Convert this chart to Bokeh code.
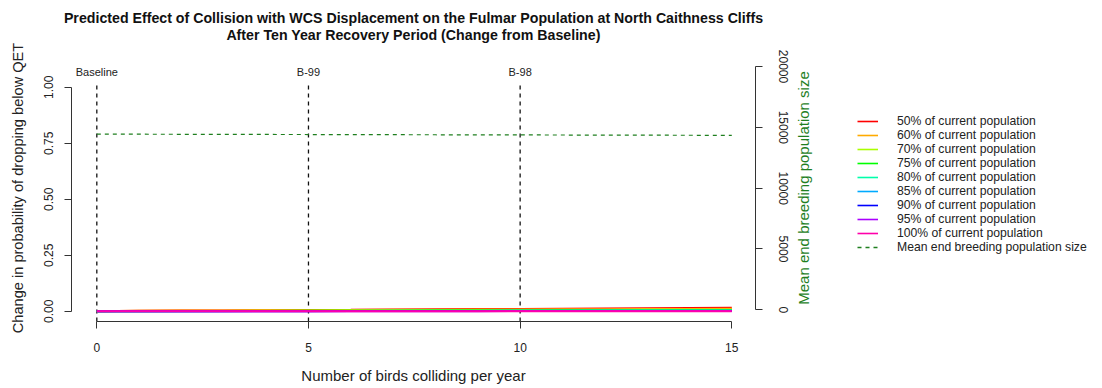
from bokeh.plotting import figure
from bokeh.models import Range1d, LinearAxis, FixedTicker, Legend, LegendItem, Label
from bokeh.layouts import row, column
from bokeh.embed import file_html
from bokeh.resources import INLINE
from bokeh.core.properties import value
import math

# ---------------- data ----------------
collisions = [0, 1, 2, 3, 4, 5, 6, 7, 8, 9, 10, 11, 12, 13, 14, 15]

pct50 = [0, 0.002, 0.003, 0.003, 0.004, 0.005, 0.006, 0.008, 0.009, 0.010, 0.010, 0.011, 0.012, 0.013, 0.014, 0.015]
pct60 = [0, 0.002, 0.003, 0.003, 0.004, 0.004, 0.005, 0.006, 0.007, 0.008, 0.008, 0.009, 0.009, 0.010, 0.010, 0.011]
pct70 = [0, 0.001, 0.001, 0.001, 0.002, 0.002, 0.003, 0.003, 0.004, 0.004, 0.005, 0.005, 0.005, 0.006, 0.006, 0.007]
pct75 = [0, 0, 0.001, 0.001, 0.001, 0.002, 0.002, 0.002, 0.003, 0.003, 0.003, 0.004, 0.004, 0.004, 0.005, 0.005]
pct80 = [0, 0, 0, 0.001, 0.001, 0.001, 0.001, 0.002, 0.002, 0.002, 0.002, 0.002, 0.003, 0.003, 0.003, 0.003]
pct85 = [0, 0, 0, 0, 0.001, 0.001, 0.001, 0.001, 0.001, 0.001, 0.002, 0.002, 0.002, 0.002, 0.002, 0.002]
pct90 = [0, 0, 0, 0, 0, 0, 0.001, 0.001, 0.001, 0.001, 0.001, 0.001, 0.001, 0.001, 0.001, 0.001]
pct95 = [0, 0, 0, 0, 0, 0, 0, 0, 0, 0, 0.0005, 0.0005, 0.0005, 0.0005, 0.0005, 0.0005]
pct100 = [0, 0, 0, 0, 0, 0, 0, 0, 0, 0, 0, 0, 0, 0, 0, 0]

pop_mean = [14440, 14434, 14428, 14421, 14414, 14408, 14401, 14394, 14388, 14382, 14375, 14368, 14362, 14355, 14348, 14340]

series_values = [pct50, pct60, pct70, pct75, pct80, pct85, pct90, pct95, pct100]
series_labels = ["50% of current population", "60% of current population",
                 "70% of current population", "75% of current population",
                 "80% of current population", "85% of current population",
                 "90% of current population", "95% of current population",
                 "100% of current population"]
series_colors = ["#FF0000", "#FFAA00", "#AAFF00", "#00FF00", "#00FFAA",
                 "#00AAFF", "#0000FF", "#AA00FF", "#FF00AA"]
pop_label = "Mean end breeding population size"

scenario_x = [0, 5, 10]
scenario_names = ["Baseline", "B-99", "B-98"]

left_ticks = [0, 0.25, 0.5, 0.75, 1.0]
left_tick_labels = ["0.00", "0.25", "0.50", "0.75", "1.00"]
bottom_ticks = [0, 5, 10, 15]
right_ticks = [0, 5000, 10000, 15000, 20000]
right_tick_labels = ["0", "5000", "10000", "15000", "20000"]

title_lines = ["Predicted Effect of Collision with WCS Displacement on the Fulmar Population at North Caithness Cliffs",
               "After Ten Year Recovery Period (Change from Baseline)"]
x_title = "Number of birds colliding per year"
y_title = "Change in probability of dropping below QET"

# ---------------- styling ----------------
FONT = "Liberation Sans"
AX = "#333333"
TXT = "#222222"
GREEN = "#1F7F1F"
TOTAL_W = 1102
TITLE_H = 43
MAIN_W = 795
FRAME_TOP = 54      # page y of the plotting frame top
FRAME_BOTTOM = 321  # page y of the plotting frame bottom


def bare(fig):
    fig.grid.visible = False
    fig.outline_line_color = None
    fig.background_fill_color = "white"
    fig.border_fill_color = "white"


# ---------------- title strip ----------------
tp = figure(width=TOTAL_W, height=TITLE_H, min_border=0,
            x_range=Range1d(0, 1), y_range=Range1d(0, 1),
            x_axis_type=None, y_axis_type=None,
            output_backend="svg", toolbar_location=None)
bare(tp)
for i, line in enumerate(title_lines):
    tp.add_layout(Label(x=413, y=TITLE_H - 17 - 17 * i, x_units="screen", y_units="screen",
                        text=line, text_align="center", text_baseline="middle",
                        text_font=FONT, text_font_size="14.2px", text_font_style="bold",
                        text_color="#111111"))

# ---------------- main plot ----------------
p = figure(frame_width=684, frame_height=FRAME_BOTTOM - FRAME_TOP,
           min_border_left=71, min_border_right=MAIN_W - 71 - 684,
           min_border_top=FRAME_TOP - TITLE_H, min_border_bottom=388 - FRAME_BOTTOM,
           x_range=Range1d(-0.598, 15.56), y_range=Range1d(-0.046, 1.146),
           x_axis_type=None, y_axis_type=None,
           output_backend="svg", toolbar_location=None)
bare(p)
p.extra_y_ranges = {"pop": Range1d(-962, 20987)}


def style_axis(ax, ticks, labels, standoff, orient, label=None, label_standoff=0, label_size="15px"):
    ax.ticker = FixedTicker(ticks=ticks)
    ax.major_label_overrides = {t: l for t, l in zip(ticks, labels)}
    ax.minor_tick_line_color = None
    ax.major_tick_in = 0
    ax.major_tick_out = 7
    ax.major_tick_line_color = AX
    ax.axis_line_color = AX
    ax.major_label_text_font = FONT
    ax.major_label_text_font_size = "12px"
    ax.major_label_text_color = TXT
    ax.major_label_standoff = standoff
    ax.major_label_orientation = orient
    ax.bounds = (ticks[0], ticks[-1])
    if label:
        ax.axis_label = label
        ax.axis_label_standoff = label_standoff
        ax.axis_label_text_font = FONT
        ax.axis_label_text_font_size = label_size
        ax.axis_label_text_font_style = "normal"
        ax.axis_label_text_color = TXT


xaxis = LinearAxis()
style_axis(xaxis, bottom_ticks, [str(t) for t in bottom_ticks], 14, "horizontal", x_title, 12)
p.add_layout(xaxis, "below")

yaxis = LinearAxis()
style_axis(yaxis, left_ticks, left_tick_labels, 11, "vertical", y_title, 16, "14.6px")
p.add_layout(yaxis, "left")

raxis = LinearAxis(y_range_name="pop")
style_axis(raxis, right_ticks, right_tick_labels, 16, "vertical")
p.add_layout(raxis, "right")

# scenario reference lines
p.segment(x0=scenario_x, y0=[-0.046] * len(scenario_x), x1=scenario_x, y1=[1.022] * len(scenario_x),
          line_color="#111111", line_dash="4 4", line_width=1.3)
p.text(x=scenario_x, y=[1.066] * len(scenario_x), text=scenario_names,
       text_align="center", text_baseline="middle", text_font=value(FONT),
       text_font_size="11px", text_color=TXT)

for vals, col in zip(series_values, series_colors):
    p.line(collisions, vals, line_color=col, line_width=2)
p.line(collisions, pop_mean, y_range_name="pop", line_color=GREEN, line_dash="4 4", line_width=1.2)

# ---------------- legend strip ----------------
lp = figure(width=TOTAL_W - MAIN_W, height=388 - TITLE_H, min_border=0,
            x_range=Range1d(0, 15), y_range=Range1d(0, 1),
            x_axis_type=None, y_axis_type=None,
            output_backend="svg", toolbar_location=None)
bare(lp)
items = []
for vals, lab, col in zip(series_values, series_labels, series_colors):
    r = lp.line(collisions, vals, line_color=col, line_width=1.6, visible=False)
    items.append(LegendItem(label=lab, renderers=[r]))
rp = lp.line(collisions, pop_mean, line_color=GREEN, line_dash="4 4", line_width=1.3, visible=False)
items.append(LegendItem(label=pop_label, renderers=[rp]))

# the strip's frame is aligned with the main frame (page y 54..321)
legend = Legend(items=items, location=(62, FRAME_BOTTOM - 254), orientation="vertical",
                border_line_color=None, background_fill_alpha=0,
                inactive_fill_alpha=0,
                padding=0, margin=0, spacing=0,
                label_height=14, glyph_height=14, glyph_width=21, label_standoff=19,
                label_text_font=FONT, label_text_font_size="12.2px", label_text_color=TXT)
lp.add_layout(legend)

# right-axis title (reads bottom to top, as in the reference)
lp.add_layout(Label(x=8, y=FRAME_BOTTOM - 187.5, x_units="screen", y_units="screen",
                    text=pop_label, angle=math.pi / 2, text_align="center", text_baseline="middle",
                    text_font=FONT, text_font_size="15px", text_color=GREEN))

layout = column(tp, row(p, lp, spacing=0), spacing=0)
open("out.html", "w").write(file_html(layout, INLINE))
